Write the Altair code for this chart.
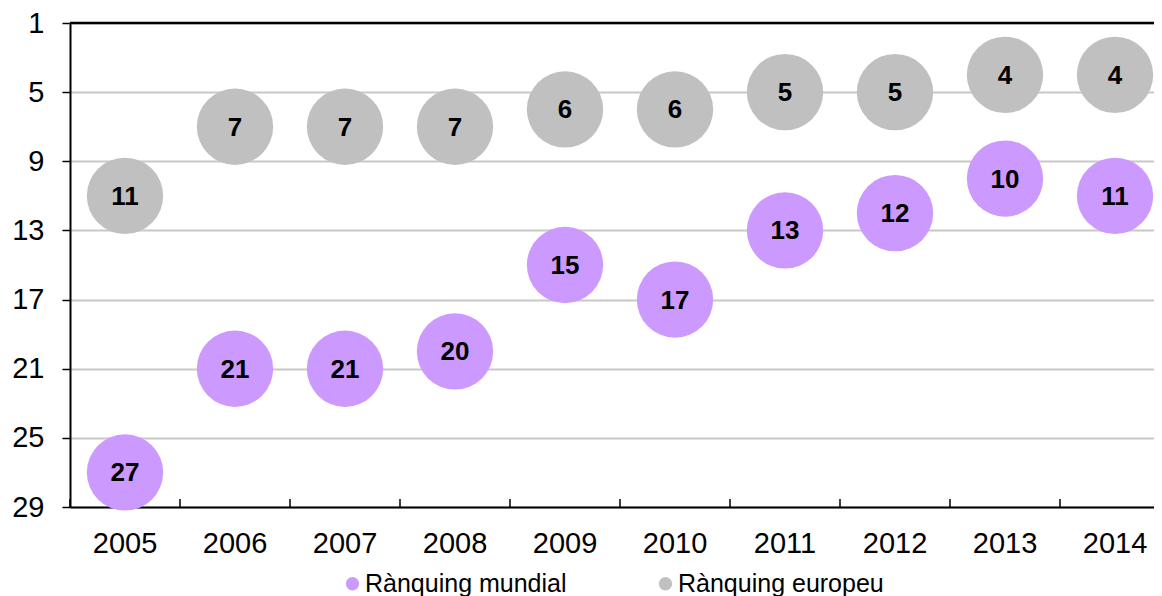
import altair as alt
import pandas as pd

years = [str(y) for y in range(2005, 2015)]
mundial = [27, 21, 21, 20, 15, 17, 13, 12, 10, 11]
europeu = [11, 7, 7, 7, 6, 6, 5, 5, 4, 4]
series_names = ["Rànquing mundial", "Rànquing europeu"]
colors = ["#CC99FF", "#C0C0C0"]
y_ticks = [1, 5, 9, 13, 17, 21, 25, 29]

df = pd.DataFrame({
    "year": years * 2,
    "rank": mundial + europeu,
    "series": [series_names[0]] * len(years) + [series_names[1]] * len(years),
})
ticks_df = pd.DataFrame({"year": years})
one_df = pd.DataFrame({"k": [0]})

W, H = 1100, 484
FONT = "Liberation Sans"

xscale = alt.Scale(type="band", domain=years, paddingInner=0, paddingOuter=0)
yscale = alt.Scale(domain=[1, 29], reverse=True, nice=False, zero=False)

x_axis = alt.Axis(title=None, labelAngle=0, ticks=False, domainColor="black", domainWidth=2,
                  labelFontSize=29, labelFont=FONT, labelColor="black", labelPadding=22, grid=False)
y_axis = alt.Axis(title=None, values=y_ticks, domainColor="black", domainWidth=2,
                  tickColor="black", tickSize=8, tickWidth=1.5, labelFontSize=29, labelFont=FONT,
                  labelColor="black", labelPadding=18, grid=True, gridColor="#C8C8C8", gridWidth=2)

base = alt.Chart(df)

points = base.mark_circle(size=5830, opacity=1).encode(
    x=alt.X("year:O", scale=xscale, axis=x_axis),
    y=alt.Y("rank:Q", scale=yscale, axis=y_axis),
    color=alt.Color("series:N", scale=alt.Scale(domain=series_names, range=colors),
                    legend=alt.Legend(title=None, orient="none", direction="horizontal",
                                      legendX=270, legendY=548, symbolType="circle",
                                      symbolSize=177, symbolOpacity=1, labelFontSize=25,
                                      labelFont=FONT, labelColor="black", labelOffset=0,
                                      columnPadding=86, padding=0, labelLimit=400)),
)

texts = base.mark_text(font=FONT, fontWeight="bold", fontSize=26, color="black",
                       baseline="middle", align="center", dy=1).encode(
    x=alt.X("year:O", scale=xscale),
    y=alt.Y("rank:Q", scale=yscale),
    text="rank:Q",
)

xticks = alt.Chart(ticks_df).mark_rule(color="black", strokeWidth=1.5).encode(
    x=alt.X("year:O", scale=xscale, bandPosition=0),
    y=alt.value(H - 8),
    y2=alt.value(H),
)

top_line = alt.Chart(one_df).mark_rule(color="black", strokeWidth=2.5).encode(
    y=alt.value(0)
)

chart = alt.layer(points, texts, xticks, top_line).properties(
    width=W, height=H,
    autosize=alt.AutoSizeParams(type="none"),
    padding={"left": 62, "top": 15, "right": -16, "bottom": 89},
).configure_view(stroke=None)

chart.save("out.html", embed_options={"renderer": "svg", "actions": False})
